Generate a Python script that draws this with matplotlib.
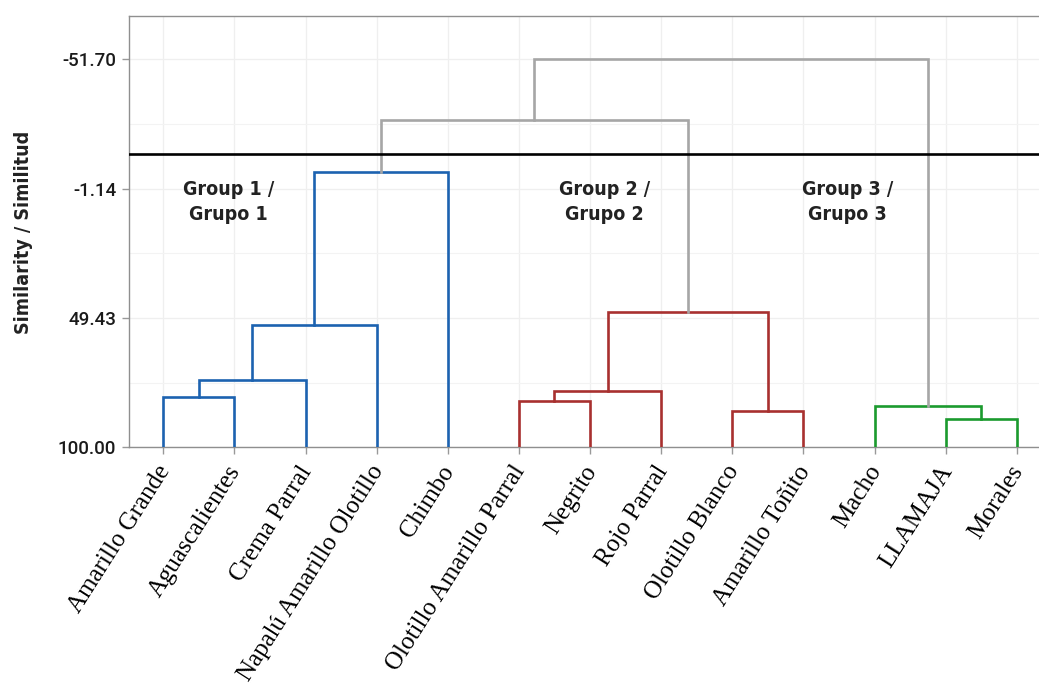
import numpy as np
import matplotlib
matplotlib.use("Agg")
import matplotlib.pyplot as plt

# leaves, left to right
labels = ["Amarillo Grande", "Aguascalientes", "Crema Parral", "Napalú Amarillo Olotillo",
          "Chimbo", "Olotillo Amarillo Parral", "Negrito", "Rojo Parral",
          "Olotillo Blanco", "Amarillo Toñito", "Macho", "LLAMAJA", "Morales"]

# merges: (child a, child b, height); new cluster ids start at len(labels)
merge_a = [0, 13, 14, 15, 5, 17, 8, 18, 11, 10, 16, 23]
merge_b = [1, 2, 3, 4, 6, 7, 9, 19, 12, 21, 20, 22]
merge_h = [80.4, 73.7, 52.3, -7.5, 81.9, 78.0, 85.7, 47.1, 88.9, 83.8, -28.0, -51.7]
merge_grp = ["g1", "g1", "g1", "g1", "g2", "g2", "g2", "g2", "g3", "g3", "top", "top"]

cut_height = -14.6
yticks = [-51.70, -1.14, 49.43, 100.00]

group_text = ["Group 1 /\nGrupo 1", "Group 2 /\nGrupo 2", "Group 3 /\nGrupo 3"]
group_x = [0.92, 6.2, 9.62]
group_y = 4.0

colors = {"g1": "#1c62b0", "g2": "#a8302f", "g3": "#1b9a2e", "top": "#a6a6a6"}

fig = plt.figure(figsize=(10.39, 6.84), dpi=100)
ax = fig.add_axes([128.7 / 1039, 1 - 447.3 / 684, 1 - 128.7 / 1039, (447.3 - 16) / 684])

n = len(labels)
pos = {i: float(i) for i in range(n)}
hgt = {i: 100.0 for i in range(n)}
for k, (a, b, h, g) in enumerate(zip(merge_a, merge_b, merge_h, merge_grp)):
    xa, xb = pos[a], pos[b]
    ax.plot([xa, xa, xb, xb], [hgt[a], h, h, hgt[b]], color=colors[g], lw=1.9,
            solid_joinstyle="miter", zorder=3)
    pos[n + k] = (xa + xb) / 2
    hgt[n + k] = h

ax.axhline(cut_height, color="black", lw=1.9, zorder=4)

for t, x in zip(group_text, group_x):
    ax.text(x, group_y, t, ha="center", va="center", fontsize=14, fontweight="bold",
            family="DejaVu Sans", fontstretch="condensed", color="#222222",
            linespacing=1.42, zorder=5)

ax.set_xlim((128.7 - 163.3) / 71.12, (1039 - 163.3) / 71.12)
ax.set_ylim(100, -68.6)

# leaf names, rotated, hanging from the bottom axis
ax.set_xticks(range(n))
ax.set_xticklabels([])
for i, lab in enumerate(labels):
    ax.annotate(lab, xy=(i, 100), xytext=(1.3, -14.5), textcoords="offset points",
                rotation=57.5, ha="right", va="center", rotation_mode="anchor",
                family="Liberation Serif", fontsize=18, annotation_clip=False)

ax.set_yticks(yticks)
ax.set_yticklabels([f"{v:.2f}" for v in yticks], family="Roboto", fontweight="medium",
                   fontsize=13.5)
ax.set_yticks([(yticks[i] + yticks[i + 1]) / 2 for i in range(3)], minor=True)
ax.tick_params(axis="x", length=5, width=1, color="#999999")
ax.tick_params(axis="y", which="major", length=5, width=1, color="#999999", pad=4,
               labelcolor="#1a1a1a")
ax.tick_params(axis="y", which="minor", length=0)

ax.grid(True, which="major", color="#efefef", lw=0.9, zorder=0)
ax.grid(True, which="minor", axis="y", color="#f3f3f3", lw=0.8, zorder=0)
ax.set_axisbelow(True)

for s in ["left", "top", "bottom"]:
    ax.spines[s].set_color("#8f8f8f")
    ax.spines[s].set_linewidth(1.0)
ax.spines["right"].set_visible(False)

ax.set_ylabel("Similarity / Similitud", fontsize=14, fontweight="bold", family="DejaVu Sans",
              fontstretch="condensed", color="#222222")
ax.yaxis.set_label_coords(-(128.7 - 33) / 910.3, (447.3 - 232) / 431.3)

fig.savefig("out.png", dpi=100)
